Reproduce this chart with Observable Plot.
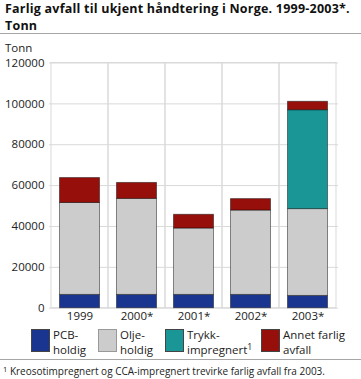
<!DOCTYPE html>
<html>
<head>
<meta charset="utf-8">
<script src="https://cdn.jsdelivr.net/npm/d3@7"></script>
<script src="https://cdn.jsdelivr.net/npm/@observablehq/plot@0.6"></script>
<style>
  html, body { margin: 0; padding: 0; background: #fff; }
  body { width: 361px; height: 379px; position: relative; overflow: hidden; font-family: "Open Sans", sans-serif; color: #222; }
  .title { position: absolute; left: 5px; font-weight: bold; font-size: 12.5px; line-height: 17px; letter-spacing: 0.22px; color: #111; white-space: nowrap; }
  .hr { position: absolute; left: 0; width: 361px; height: 1px; background: #a6a6a6; }
  #unit { position: absolute; left: 5px; top: 40px; font-size: 11.5px; }
  #chart { position: absolute; left: 0; top: 34px; }
  .leg { position: absolute; top: 329px; font-size: 11.5px; line-height: 15px; }
  .sw { position: absolute; top: 0; width: 17px; height: 21px; border: 1px solid #555; }
  .lt { position: absolute; top: -2px; white-space: nowrap; }
  #foot { position: absolute; left: 3px; top: 364px; font-size: 10px; white-space: nowrap; }
  sup { font-size: 0.75em; vertical-align: 0.45em; line-height: 0; }
</style>
</head>
<body>
<div class="title" style="top:0px">Farlig avfall til ukjent håndtering i Norge. 1999-2003*.</div>
<div class="title" style="top:17px">Tonn</div>
<div class="hr" style="top:32.5px"></div>
<div id="unit">Tonn</div>
<div id="chart"></div>
<div id="legend"></div>
<div class="hr" style="top:359px"></div>
<div id="foot"><sup>1</sup> Kreosotimpregnert og CCA-impregnert trevirke farlig avfall fra 2003.</div>
<script>
const years = ["1999", "2000*", "2001*", "2002*", "2003*"];
const series = ["PCB-holdig", "Oljeholdig", "Trykkimpregnert", "Annet farlig avfall"];
const legendLines = [["PCB-", "holdig"], ["Olje-", "holdig"], ["Trykk-", "impregnert<sup>1</sup>"], ["Annet farlig", "avfall"]];
const colors = ["#1a3590", "#cccccc", "#1a9696", "#960f0a"];
const pcb = [6500, 6500, 6500, 6500, 6000];
const olje = [45000, 47000, 32500, 41300, 42500];
const trykk = [0, 0, 0, 0, 48400];
const annet = [12200, 7800, 6700, 5600, 4100];
const yTicks = [0, 20000, 40000, 60000, 80000, 100000, 120000];

const values = [pcb, olje, trykk, annet];
const data = [];
years.forEach((yr, i) => {
  series.forEach((s, j) => {
    if (values[j][i] > 0) data.push({year: yr, series: s, value: values[j][i]});
  });
});
const cells = years.map(y => ({year: y}));

const chart = Plot.plot({
  width: 361,
  height: 292,
  marginTop: 28.5,
  marginBottom: 18.3,
  marginLeft: 49,
  marginRight: 23,
  style: {fontFamily: "Open Sans, sans-serif", fontSize: "11.5px", color: "#222", background: "transparent"},
  x: {domain: years, padding: 0, label: null, tickSize: 0, tickPadding: 4},
  y: {domain: [0, 120000], ticks: yTicks, label: null, tickSize: 0, tickPadding: 5, tickFormat: d => String(d)},
  color: {domain: series, range: colors},
  marks: [
    Plot.gridY(yTicks, {stroke: "#d9d9d9", strokeOpacity: 1}),
    Plot.barY(cells, {x: "year", y1: 0, y2: 120000, fill: "none", stroke: "#d9d9d9"}),
    Plot.barY(data, {x: "year", y: "value", fill: "series", order: series, insetLeft: 8.5, insetRight: 8.5, stroke: "#000", strokeOpacity: 0.45, strokeWidth: 1})
  ]
});
document.getElementById("chart").appendChild(chart);

const legend = document.getElementById("legend");
const legX = [31, 98, 165, 261];
series.forEach((s, i) => {
  const d = document.createElement("div");
  d.className = "leg";
  d.style.left = legX[i] + "px";
  d.innerHTML = `<div class="sw" style="background:${colors[i]};border-color:${i===1?'#999':'#444'}"></div><div class="lt" style="left:22px">${legendLines[i][0]}<br>${legendLines[i][1]}</div>`;
  legend.appendChild(d);
});
</script>
</body>
</html>
